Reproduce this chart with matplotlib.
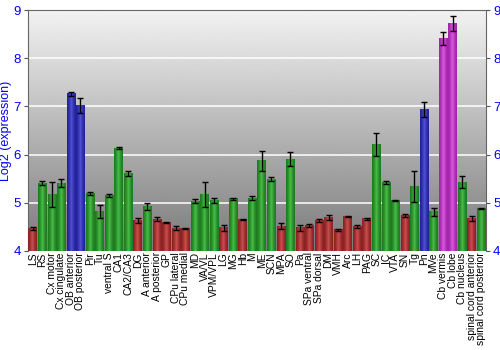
import matplotlib
matplotlib.use('Agg')
import matplotlib.pyplot as plt
import numpy as np
from matplotlib.colors import LinearSegmentedColormap

plt.rcParams['font.family'] = ['Liberation Sans', 'DejaVu Sans']

regions = ['LS', 'RS', 'Cx motor', 'Cx cingulate', 'OB anterior', 'OB posterior',
           'Pir', 'Tu', 'ventral S', 'CA1', 'CA2/CA3', 'DG', 'A anterior',
           'A posterior', 'GP', 'CPu lateral', 'CPu medial', 'MD', 'VA/VL',
           'VPM/VPL', 'LG', 'MG', 'Hb', 'M', 'ME', 'SCN', 'MPA', 'SO', 'Pa',
           'SPa ventral', 'SPa dorsal', 'DM', 'VMH', 'Arc', 'LH', 'PAG', 'SC',
           'IC', 'VTA', 'SN', 'Tg', 'Pn', 'MVe', 'Cb vermis', 'Cb lobe',
           'Cb nucleus', 'spinal cord anterior', 'spinal cord posterior']
expression = [4.46, 5.41, 5.17, 5.41, 7.26, 7.02,
              5.19, 4.82, 5.15, 6.13, 5.60, 4.63, 4.92,
              4.66, 4.59, 4.47, 4.47, 5.03, 5.17,
              5.05, 4.48, 5.08, 4.66, 5.10, 5.87, 5.49, 4.51, 5.91, 4.48,
              4.53, 4.63, 4.70, 4.44, 4.72, 4.51, 4.67, 6.21,
              5.42, 5.04, 4.74, 5.34, 6.94, 4.81, 8.41, 8.72,
              5.43, 4.67, 4.88]
errors = [0.03, 0.04, 0.26, 0.08, 0.04, 0.16,
          0.03, 0.14, 0.03, 0.02, 0.05, 0.06, 0.08,
          0.04, 0.01, 0.04, 0.01, 0.04, 0.26,
          0.05, 0.06, 0.02, 0.01, 0.05, 0.20, 0.04, 0.06, 0.15, 0.06,
          0.03, 0.03, 0.05, 0.02, 0.01, 0.03, 0.02, 0.23,
          0.04, 0.01, 0.03, 0.32, 0.15, 0.08, 0.13, 0.16,
          0.12, 0.05, 0.01]
groups = ['r', 'g', 'g', 'g', 'b', 'b',
          'g', 'g', 'g', 'g', 'g', 'r', 'g',
          'r', 'r', 'r', 'r', 'g', 'g',
          'g', 'r', 'g', 'r', 'g', 'g', 'g', 'r', 'g', 'r',
          'r', 'r', 'r', 'r', 'r', 'r', 'r', 'g',
          'g', 'g', 'r', 'g', 'b', 'g', 'm', 'm',
          'g', 'r', 'g']

# edge / centre colours for the bar gradients
shades = {
    'r': ('#8a2222', '#cc5050'),
    'g': ('#1f7a1f', '#48c048'),
    'b': ('#22229a', '#5252d6'),
    'm': ('#a024a8', '#dc5ade'),
}

fig = plt.figure(figsize=(5, 3.5), dpi=100)
ax = fig.add_axes([0.056, 0.283, 0.916, 0.688])

x = np.arange(len(regions))
ax.set_xlim(-0.5, len(regions) - 0.5)
ax.set_ylim(4, 9)

# grey vertical background gradient
bg = np.linspace(0.48, 0.95, 256).reshape(-1, 1)
ax.imshow(bg, cmap='gray', vmin=0, vmax=1, aspect='auto', origin='lower',
          extent=[0, 1, 0, 1], transform=ax.transAxes, zorder=0)

for yv in [5, 6, 7, 8]:
    ax.axhline(yv, color='white', lw=1.3, alpha=0.85, zorder=1)

bars = ax.bar(x, np.array(expression) - 4, bottom=4, width=0.9,
              color=[shades[g][1] for g in groups], zorder=2)

grad = np.abs(np.linspace(-1, 1, 64)).reshape(1, -1)
for b, g in zip(bars, groups):
    cmap = LinearSegmentedColormap.from_list('c', [shades[g][1], shades[g][0]])
    ax.imshow(1 - (1 - grad) ** 1.5, cmap=cmap, vmin=0, vmax=1, aspect='auto',
              extent=[b.get_x(), b.get_x() + b.get_width(), 4, 4 + b.get_height()],
              zorder=3)

ax.errorbar(x, expression, yerr=errors, fmt='none', ecolor='black',
            elinewidth=1, capsize=2, capthick=1, zorder=4)

ax.set_xticks(x)
ax.set_xticklabels(regions, rotation=90, fontsize=7.4)
ax.tick_params(axis='x', length=0, pad=1)
ax.set_yticks([4, 5, 6, 7, 8, 9])
ax.tick_params(axis='y', colors='#555555', labelcolor='blue', labelsize=9.5,
               length=3, right=True, labelright=True, pad=2)
ax.set_ylabel('Log2 (expression)', color='blue', fontsize=9, labelpad=1)

for s in ['left', 'right', 'top']:
    ax.spines[s].set_color('#666666')
ax.spines['bottom'].set_visible(False)

fig.savefig('out.png', dpi=100)
